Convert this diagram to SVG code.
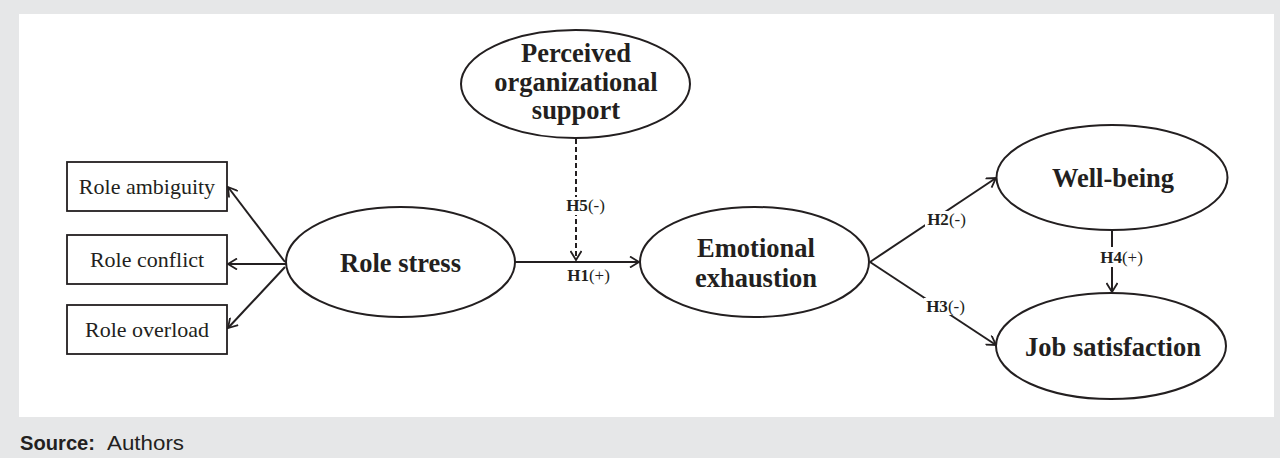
<svg xmlns="http://www.w3.org/2000/svg" width="1280" height="458" viewBox="0 0 1280 458">
<defs>
<style>
.node ellipse{fill:#fff;stroke:#231f20;stroke-width:2}
.node rect{fill:#fff;stroke:#231f20;stroke-width:1.8}
.big{font-family:"Liberation Serif","Times New Roman",serif;font-weight:bold;font-size:26.5px;fill:#231f20;text-anchor:middle}
.box{font-family:"Liberation Serif","Times New Roman",serif;font-size:22px;fill:#231f20;text-anchor:middle}
.edge{fill:none;stroke:#231f20;stroke-width:2;marker-end:url(#ah)}
.dash{stroke-dasharray:5 3}
.lbl{font-family:"Liberation Serif","Times New Roman",serif;font-size:17px;fill:#231f20;text-anchor:middle}
.lbl .b{font-weight:bold}
.lblbg{fill:#fff;stroke:none}
.src{font-family:"Liberation Sans Narrow","Liberation Sans",Arial,sans-serif;font-size:21px;fill:#231f20}
</style>
<marker id="ah" viewBox="0 0 12 12" markerWidth="12" markerHeight="12" refX="10" refY="6" orient="auto" markerUnits="userSpaceOnUse">
<path d="M1,0.5 L10,6 L1,11.5" fill="none" stroke="#231f20" stroke-width="1.8" stroke-dasharray="none"/>
</marker>
</defs>
<rect x="0" y="0" width="1280" height="458" fill="#e6e7e8"/>
<rect x="19" y="14" width="1255" height="403" fill="#ffffff"/>

<g id="connectors">
<path class="edge" d="M285,262 L228,187"/>
<path class="edge" d="M286,264 L228,264"/>
<path class="edge" d="M285,267 L228,328"/>
<path class="edge" d="M515,262 L639,262"/>
<path class="edge dash" d="M576,139 L576,260"/>
<path class="edge" d="M870,262 L996,178"/>
<path class="edge" d="M870,262 L996,345"/>
<path class="edge" d="M1112,231 L1112,292"/>
<g id="lbl-h5"><rect class="lblbg" x="565" y="197" width="42" height="18"/><text class="lbl" x="585.5" y="211"><tspan class="b">H5</tspan>(-)</text></g>
<g id="lbl-h1"><text class="lbl" x="588.5" y="281"><tspan class="b">H1</tspan>(+)</text></g>
<g id="lbl-h2"><rect class="lblbg" x="925" y="211" width="43" height="18"/><text class="lbl" x="946.5" y="225"><tspan class="b">H2</tspan>(-)</text></g>
<g id="lbl-h3"><rect class="lblbg" x="924" y="298" width="43" height="17"/><text class="lbl" x="945.5" y="311.5"><tspan class="b">H3</tspan>(-)</text></g>
<g id="lbl-h4"><rect class="lblbg" x="1098" y="247" width="47" height="20"/><text class="lbl" x="1121.5" y="263"><tspan class="b">H4</tspan>(+)</text></g>
</g>

<g id="role-ambiguity" class="node"><rect x="67" y="162" width="160" height="49"/><text class="box" x="147" y="194">Role ambiguity</text></g>
<g id="role-conflict" class="node"><rect x="67" y="235" width="160" height="49"/><text class="box" x="147" y="267">Role conflict</text></g>
<g id="role-overload" class="node"><rect x="67" y="305" width="160" height="49"/><text class="box" x="147" y="337">Role overload</text></g>

<g id="role-stress" class="node"><ellipse cx="400.5" cy="262" rx="114.5" ry="55"/><text class="big" x="400.5" y="272">Role stress</text></g>
<g id="pos" class="node"><ellipse cx="575.5" cy="84" rx="114.5" ry="54"/><text class="big" x="576" y="62">Perceived</text><text class="big" x="576" y="91">organizational</text><text class="big" x="576" y="119">support</text></g>
<g id="emotional-exhaustion" class="node"><ellipse cx="754.5" cy="262" rx="114.5" ry="55"/><text class="big" x="756" y="257">Emotional</text><text class="big" x="756" y="287">exhaustion</text></g>
<g id="well-being" class="node"><ellipse cx="1112" cy="177.5" rx="115.5" ry="52.5"/><text class="big" x="1113" y="187">Well-being</text></g>
<g id="job-satisfaction" class="node"><ellipse cx="1111" cy="346" rx="115" ry="53"/><text class="big" x="1113" y="356">Job satisfaction</text></g>

<text class="src" x="20" y="450"><tspan font-weight="bold" textLength="75" lengthAdjust="spacingAndGlyphs">Source:</tspan></text>
<text class="src" x="107" y="450" textLength="77" lengthAdjust="spacingAndGlyphs">Authors</text>
</svg>
